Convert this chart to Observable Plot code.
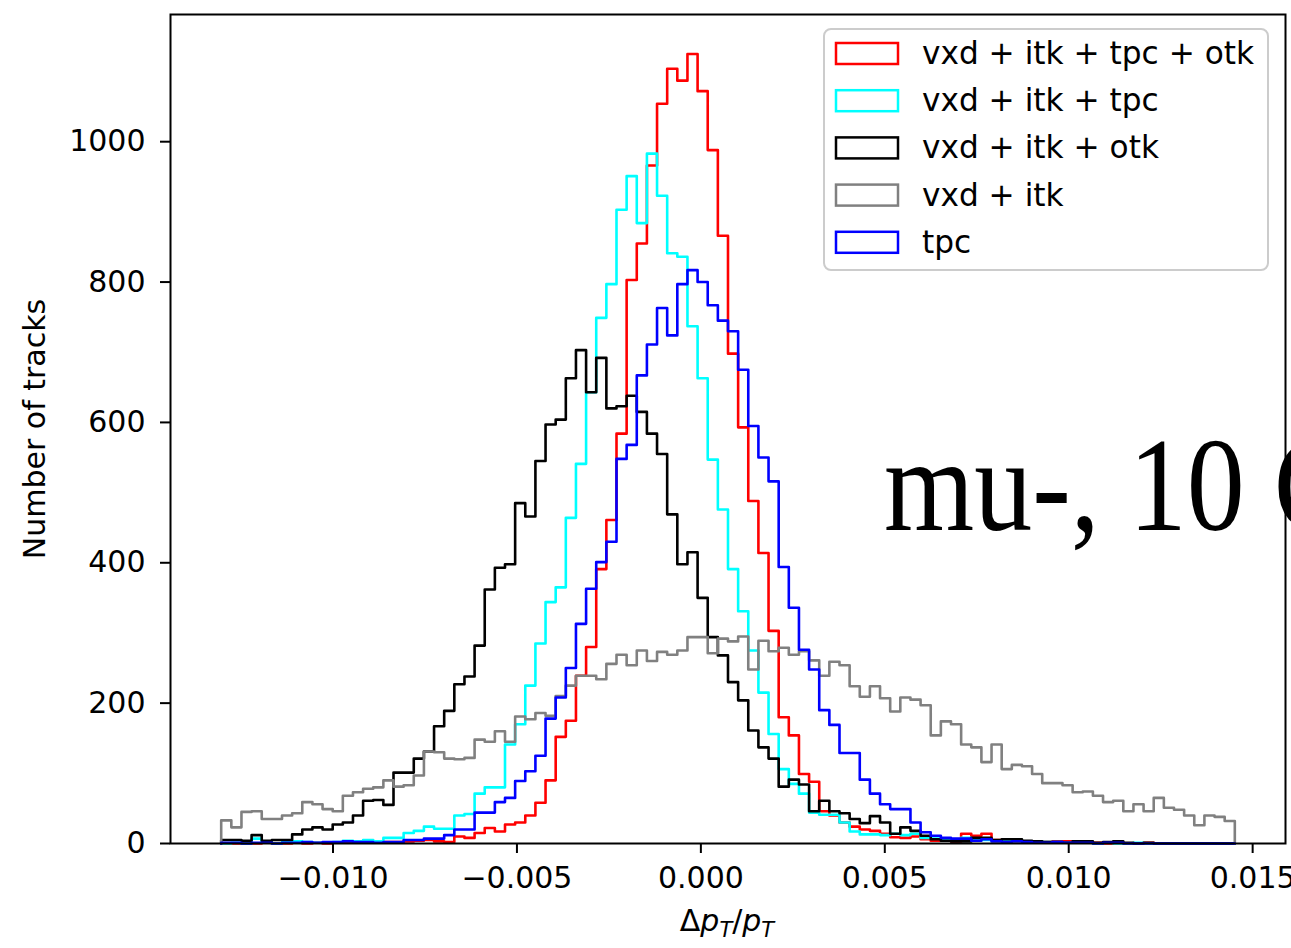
<!DOCTYPE html>
<html>
<head>
<meta charset="utf-8">
<script src="https://cdn.jsdelivr.net/npm/d3@7"></script>
<script src="https://cdn.jsdelivr.net/npm/@observablehq/plot@0.6"></script>
<style>
html, body { margin: 0; padding: 0; background: #fff; overflow: hidden; }
#wrap { position: relative; width: 1291px; height: 948px; overflow: hidden; }
</style>
</head>
<body>
<div id="wrap"></div>
<script>
// ---- data ----
const seriesNames = ["vxd + itk + tpc + otk", "vxd + itk + tpc", "vxd + itk + otk", "vxd + itk", "tpc"];
const seriesColors = ["red", "cyan", "black", "gray", "blue"];
const binLow = -0.01304, binHigh = 0.014515, binCount = 100;
const xTicks = [-0.010, -0.005, 0.000, 0.005, 0.010, 0.015];
const yTicks = [0, 200, 400, 600, 800, 1000];

const redCounts = [
  0,0,0,0,1,0,0,1,0,1,
  0,1,1,2,1,1,2,2,3,4,
  5,3,2,10,8,15,22,17,27,30,
  40,58,90,152,175,239,280,391,461,584,
  803,855,966,1054,1104,1087,1125,1072,988,866,
  698,593,488,414,303,180,154,99,88,46,
  40,30,24,20,18,14,9,8,10,6,
  4,5,3,14,11,14,5,5,4,3,
  3,2,3,3,2,1,1,0,1,0,
  0,1,0,0,0,0,0,0,0,0];
const cyanCounts = [
  0,1,0,7,2,0,2,3,2,1,
  1,2,4,3,5,3,8,8,15,18,
  24,21,21,40,42,71,80,80,141,170,
  225,285,344,365,464,541,643,749,797,903,
  951,884,983,923,841,836,737,663,547,476,
  391,331,275,215,156,106,85,71,44,41,
  41,30,17,13,13,12,14,12,14,8,
  7,6,6,8,6,5,4,5,5,3,
  3,2,2,1,1,1,0,1,0,0,
  1,0,0,0,0,0,0,0,0,0];
const blackCounts = [
  5,5,4,12,4,5,5,13,20,23,
  20,27,30,40,61,62,55,101,101,121,
  131,167,189,227,238,282,362,393,398,485,
  466,545,597,604,663,703,643,692,620,623,
  638,615,584,555,469,398,415,350,294,268,
  230,204,161,137,121,81,91,84,46,61,
  46,43,35,29,39,30,14,23,18,11,
  6,4,3,3,8,8,5,6,6,4,
  3,2,2,1,3,3,1,2,3,1,
  0,1,0,0,0,0,0,0,0,0];
const grayCounts = [
  33,23,45,46,35,35,40,43,59,56,
  49,46,68,73,78,80,90,81,83,97,
  131,130,121,120,122,148,145,160,145,181,
  177,186,182,210,225,239,239,234,256,269,
  254,275,260,273,269,275,294,294,271,292,
  288,295,248,289,274,279,269,274,261,239,
  259,254,224,209,224,207,188,208,205,197,
  154,174,170,141,137,116,141,106,112,110,
  99,86,86,83,73,74,68,59,61,46,
  56,46,65,51,48,40,26,40,38,32];
const blueCounts = [
  1,1,0,1,1,0,1,1,2,1,
  2,2,3,2,2,1,2,2,5,5,
  7,7,12,20,20,44,44,59,65,89,
  103,125,178,208,250,313,363,401,430,548,
  568,667,711,763,724,797,817,800,767,745,
  730,675,595,550,516,394,336,276,248,190,
  169,129,129,91,71,56,49,49,30,16,
  11,8,7,7,4,6,3,2,3,2,
  1,1,2,1,1,1,0,1,1,0,
  0,0,0,0,0,0,0,0,0,0];
const allCounts = [redCounts, cyanCounts, blackCounts, grayCounts, blueCounts];

const annotationText = "mu-, 10 GeV";
const yLabel = "Number of tracks";

// ---- build step outlines (matplotlib histtype="step") ----
const binWidth = (binHigh - binLow) / binCount;
function stepPoints(counts, name) {
  const pts = [{x: binLow, y: 0, s: name}];
  counts.forEach((c, i) => pts.push({x: binLow + i * binWidth, y: c, s: name}));
  pts.push({x: binHigh, y: counts[counts.length - 1], s: name});
  pts.push({x: binHigh, y: 0, s: name});
  return pts;
}

const lineMarks = allCounts.map((counts, k) =>
  Plot.line(stepPoints(counts, seriesNames[k]), {
    x: "x", y: "y", stroke: seriesColors[k], strokeWidth: 2.6, curve: "step-after"
  })
);

const chart = Plot.plot({
  width: 1291,
  height: 948,
  marginLeft: 170,
  marginRight: 6,
  marginTop: 14,
  marginBottom: 105,
  style: {fontFamily: "DejaVu Sans", fontSize: "30px", color: "#000", background: "#fff", overflow: "visible"},
  x: {domain: [-0.014418, 0.015893]},
  y: {domain: [0, 1181.25]},
  marks: [
    ...lineMarks,
    Plot.axisX({ticks: xTicks, tickFormat: d3.format(".3f"), tickSize: 10, tickPadding: 13, label: null, strokeWidth: 2, fontSize: 30}),
    Plot.axisY({ticks: yTicks, tickFormat: d3.format("d"), tickSize: 10, tickPadding: 15, label: null, strokeWidth: 2, fontSize: 30}),
    Plot.frame({stroke: "#000", strokeWidth: 2})
  ]
});

document.getElementById("wrap").appendChild(chart);

// ---- labels, legend and annotation ----
const svg = d3.select(chart);
const font = "DejaVu Sans";

// y label
svg.append("text")
  .attr("transform", "translate(45,429) rotate(-90)")
  .attr("text-anchor", "middle")
  .attr("font-family", font).attr("font-size", 30).attr("fill", "#000")
  .text(yLabel);

// x label: Δp_T/p_T
const xl = svg.append("text")
  .attr("x", 727).attr("y", 931)
  .attr("text-anchor", "middle")
  .attr("font-family", font).attr("font-size", 30).attr("fill", "#000");
xl.append("tspan").text("Δ");
xl.append("tspan").attr("font-style", "italic").text("p");
xl.append("tspan").attr("font-style", "italic").attr("font-size", 21).attr("dy", 6).text("T");
xl.append("tspan").attr("dy", -6).text("/");
xl.append("tspan").attr("font-style", "italic").text("p");
xl.append("tspan").attr("font-style", "italic").attr("font-size", 21).attr("dy", 6).text("T");

// legend
const lg = svg.append("g");
lg.append("rect")
  .attr("x", 824).attr("y", 29).attr("width", 444).attr("height", 241)
  .attr("rx", 7).attr("fill", "#fff").attr("fill-opacity", 0.8)
  .attr("stroke", "#cccccc").attr("stroke-width", 2);
seriesNames.forEach((name, k) => {
  const cy = 53.5 + k * 47.2;
  lg.append("rect")
    .attr("x", 836).attr("y", cy - 10.5).attr("width", 62).attr("height", 21)
    .attr("fill", "none").attr("stroke", seriesColors[k]).attr("stroke-width", 2.5);
  lg.append("text")
    .attr("x", 922).attr("y", cy + 10.5)
    .attr("text-anchor", "start")
    .attr("font-family", font).attr("font-size", 31.2).attr("fill", "#000")
    .text(name);
});

// big annotation
svg.append("text")
  .attr("transform", "translate(884,530) scale(1,1.15)")
  .attr("text-anchor", "start")
  .attr("font-family", "Liberation Serif").attr("font-size", 116).attr("fill", "#000")
  .text(annotationText);
</script>
</body>
</html>
